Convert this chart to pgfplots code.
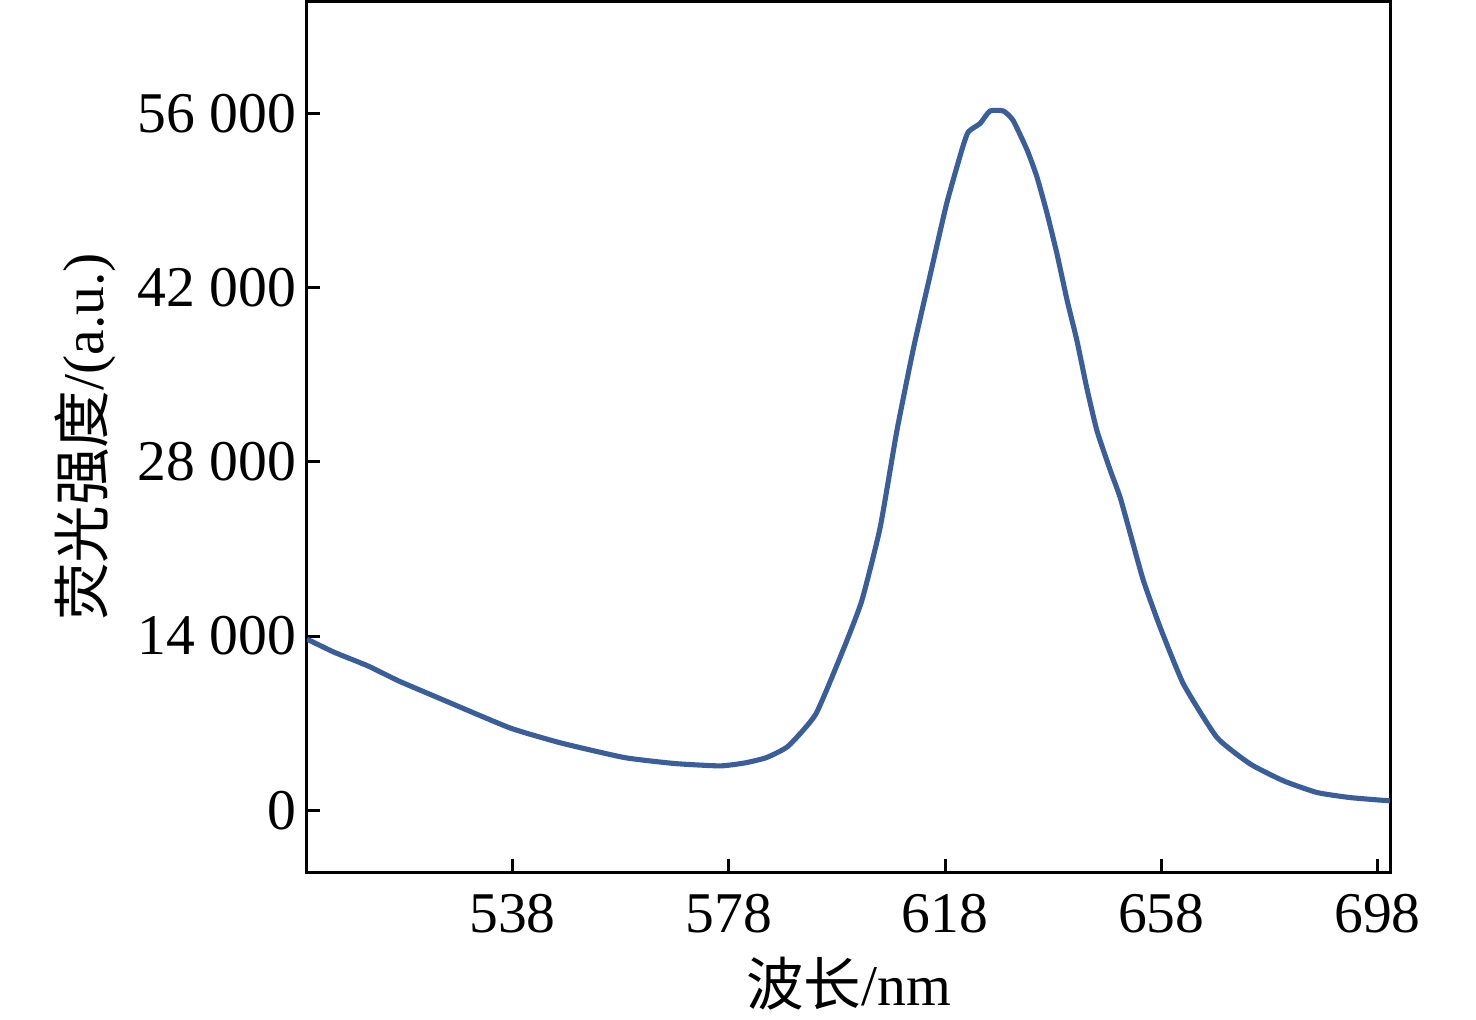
\documentclass[border=0pt]{standalone}
\usepackage{fontspec}
\setmainfont{Liberation Serif}
\newfontfamily\cjk{Noto Sans CJK SC}
\usepackage{pgfplots}
\pgfplotsset{compat=1.18}
\definecolor{curve}{RGB}{58,94,154}
\begin{document}
\begin{tikzpicture}
\begin{axis}[
  scale only axis,
  width=361pt, height=290.3pt,
  xmin=500, xmax=700.3, ymin=-5000, ymax=65000,
  xtick={538,578,618,658,698},
  ytick={0,14000,28000,42000,56000},
  tick align=inside,
  major tick length=4.3pt,
  xtick pos=bottom, ytick pos=left,
  axis line style={line width=1pt},
  every tick/.style={black, line width=1pt},
  scaled y ticks=false,
  /pgf/number format/.cd, 1000 sep={\ }, assume math mode=true,
  /pgfplots/.cd,
  every tick label/.append style={font=\fontsize{19.2}{23}\selectfont},
  xticklabel style={yshift=-3.7pt},
  xlabel={{\cjk 波长}/nm},
  ylabel={{\cjk 荧光强度}/(a.u.)},
  label style={font=\fontsize{19.2}{23}\selectfont},
  xlabel style={at={(axis description cs:0.5,0)}, anchor=center, yshift=-37pt},
  ylabel style={at={(axis description cs:-0.205,0.5)}, anchor=center},
]
\addplot[color=curve, line width=1.7pt, smooth, tension=0.3] coordinates {
(500,13750) (505,12700) (511.3,11590) (517,10380) (525,8900) (537.5,6620)
(547,5400) (558.7,4230) (568,3750) (576.4,3560) (581,3800) (585,4230)
(589,5150) (594.1,7720) (599.1,12820) (602.6,16820) (606,22710) (609.1,30500)
(612.2,37200) (615.3,43100) (618.3,48750) (621.1,53050) (622.3,54520)
(624.5,55200) (626.3,56200) (628.8,56200) (630.6,55440) (633.2,53050)
(635,50900) (636.9,47930) (638.7,44730) (640.6,40950) (642.4,37740)
(644.2,33980) (646.1,30500) (648.6,27280) (650.4,25130) (652.6,21700)
(654.7,18440) (657.8,14690) (662.1,10140) (668.3,5840) (674.5,3700)
(680.6,2360) (686.8,1420) (693,1010) (700.3,750)
};
\end{axis}
\path ([xshift=-102.33pt,yshift=-49pt]current axis.south west) rectangle ([xshift=28.67pt,yshift=0.33pt]current axis.north east);
\end{tikzpicture}
\end{document}
